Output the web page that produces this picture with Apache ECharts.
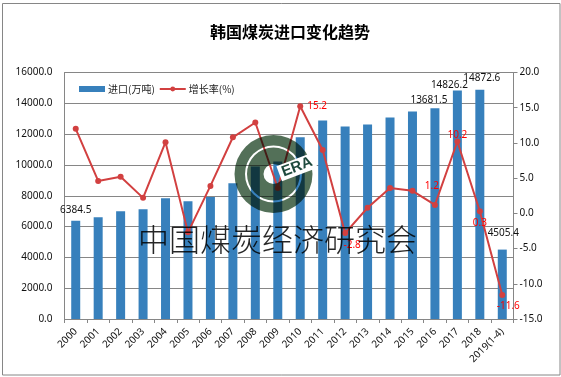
<!DOCTYPE html>
<html>
<head>
<meta charset="utf-8">
<style>
html, body { margin: 0; padding: 0; background: #fff; }
#main { width: 561px; height: 377px; }
</style>
<script src="https://cdn.jsdelivr.net/npm/echarts@6/dist/echarts.min.js"></script>
</head>
<body>
<div id="main"></div>
<script>
const categories = ['2000', '2001', '2002', '2003', '2004', '2005', '2006', '2007', '2008', '2009',
    '2010', '2011', '2012', '2013', '2014', '2015', '2016', '2017', '2018', '2019(1-4)'];
const importValues = [6384.5, 6606, 6995, 7125, 7837, 7642, 7920, 8810, 9900, 10230,
    11790, 12890, 12500, 12630, 13080, 13470, 13681.5, 14826.2, 14872.6, 4505.4];
const growthValues = [12.0, 4.6, 5.2, 2.2, 10.1, -2.7, 3.9, 10.8, 12.9, 3.6,
    15.2, 9.0, -2.8, 0.8, 3.6, 3.2, 1.2, 10.2, 0.3, -11.6];
const leftTicks = { min: 0, max: 16000, interval: 2000 };
const rightTicks = { min: -15, max: 20, interval: 5 };

// 只有这几个点显示数值
const barLabelPos = {
    0: [0, -5],
    16: [-6, -3],
    17: [-8, 0],
    18: [2, -7],
    19: [1, -11]
};
const lineLabelPos = {
    10: { position: 'right', distance: 4, offset: [0, 0] },
    12: { position: 'bottom', distance: 4, offset: [7, 0] },
    16: { position: 'top', distance: 2, offset: [-3, -9] },
    17: { position: 'top', distance: 1, offset: [0, 3] },
    18: { position: 'bottom', distance: 4, offset: [0, 0] },
    19: { position: 'bottom', distance: 3, offset: [6, 0] }
};

const font = '"Noto Sans", "Noto Sans CJK SC", sans-serif';
const gridColor = '#868686';
const mul = { blend: 'multiply' };

var myChart = echarts.init(document.getElementById('main'));

let option = {
    backgroundColor: '#fff',
    animation: false,
    textStyle: { fontFamily: font },
    title: {
        text: '韩国煤炭进口变化趋势',
        left: 285,
        top: 19,
        textAlign: 'center',
        textStyle: { fontFamily: '"Noto Sans CJK SC"', fontSize: 16, fontWeight: 'bold', color: '#000' }
    },
    legend: {
        left: 74,
        top: 79,
        itemWidth: 26,
        itemHeight: 6,
        itemGap: 4,
        textStyle: { fontFamily: '"Noto Sans CJK SC"', fontSize: 10, color: '#222', padding: [0, 0, 0, -2] },
        data: [
            { name: '进口(万吨)', icon: 'rect' },
            { name: '增长率(%)' }
        ]
    },
    grid: { left: 64.5, right: 47.5, top: 72.5, bottom: 58 },
    xAxis: {
        type: 'category',
        data: categories,
        axisLine: { lineStyle: { color: gridColor } },
        axisTick: { show: true, alignWithLabel: false, length: 4, lineStyle: { color: gridColor } },
        axisLabel: { interval: 0, rotate: 45, fontSize: 10, color: '#111', margin: 11 }
    },
    yAxis: [
        {
            type: 'value',
            min: leftTicks.min,
            max: leftTicks.max,
            interval: leftTicks.interval,
            axisLine: { show: true, lineStyle: { color: gridColor } },
            axisTick: { show: false },
            axisLabel: { fontSize: 10, color: '#111', margin: 12, formatter: v => v.toFixed(1) },
            splitLine: { lineStyle: { color: gridColor } }
        },
        {
            type: 'value',
            min: rightTicks.min,
            max: rightTicks.max,
            interval: rightTicks.interval,
            axisLine: { show: true, lineStyle: { color: gridColor } },
            axisTick: { show: true, length: 4, lineStyle: { color: gridColor } },
            axisLabel: { fontSize: 10, color: '#111', margin: 6, formatter: v => v.toFixed(1) },
            splitLine: { show: false }
        }
    ],
    series: [
        {
            name: '进口(万吨)',
            type: 'bar',
            barWidth: 9,
            itemStyle: { color: '#3780BC' },
            data: importValues.map((v, i) => ({
                value: v,
                label: barLabelPos[i] ? {
                    show: true,
                    position: 'top',
                    distance: 0,
                    offset: barLabelPos[i],
                    fontSize: 10,
                    color: '#111',
                    formatter: () => v.toFixed(1)
                } : { show: false }
            }))
        },
        {
            name: '增长率(%)',
            type: 'line',
            yAxisIndex: 1,
            symbol: 'circle',
            symbolSize: 6,
            lineStyle: { color: '#D24040', width: 2 },
            itemStyle: { color: '#D24040' },
            data: growthValues.map((v, i) => ({
                value: v,
                label: lineLabelPos[i] ? Object.assign({
                    show: true,
                    fontSize: 10,
                    color: '#FF0000',
                    formatter: () => v.toFixed(1)
                }, lineLabelPos[i]) : { show: false }
            }))
        }
    ],
    // 水印：圆环 + ERA + 文字
    graphic: [
        { type: 'rect', silent: true, z: 200, shape: { x: 2.5, y: 3.5, width: 557.5, height: 371.5 },
            style: { fill: 'none', stroke: '#868686', lineWidth: 1 } },
        { type: 'ring', silent: true, z: 210, shape: { cx: 273.5, cy: 174, r: 39, r0: 28.5 },
            style: Object.assign({ fill: '#537058' }, mul) },
        { type: 'ring', silent: true, z: 210, shape: { cx: 273.5, cy: 174, r: 26.5, r0: 10 },
            style: Object.assign({ fill: '#537058' }, mul) },
        { type: 'rect', silent: true, z: 211, x: 297, y: 167, rotation: 0.36,
            shape: { x: -19, y: -8, width: 38, height: 16 },
            style: { fill: '#fff' } },
        { type: 'text', silent: true, z: 212, x: 297, y: 167, rotation: 0.36,
            style: { text: 'ERA', fill: '#1F4A3E', font: 'bold 15px "Liberation Sans"', align: 'center', verticalAlign: 'middle' } },
        { type: 'text', silent: true, z: 215, x: 277.5, y: 239,
            style: { text: '中国煤炭经济研究会', fill: 'rgba(0,0,0,0.85)', font: '200 31px "Noto Sans CJK SC"', align: 'center', verticalAlign: 'middle' } }
    ]
};

option && myChart.setOption(option);
</script>
</body>
</html>
